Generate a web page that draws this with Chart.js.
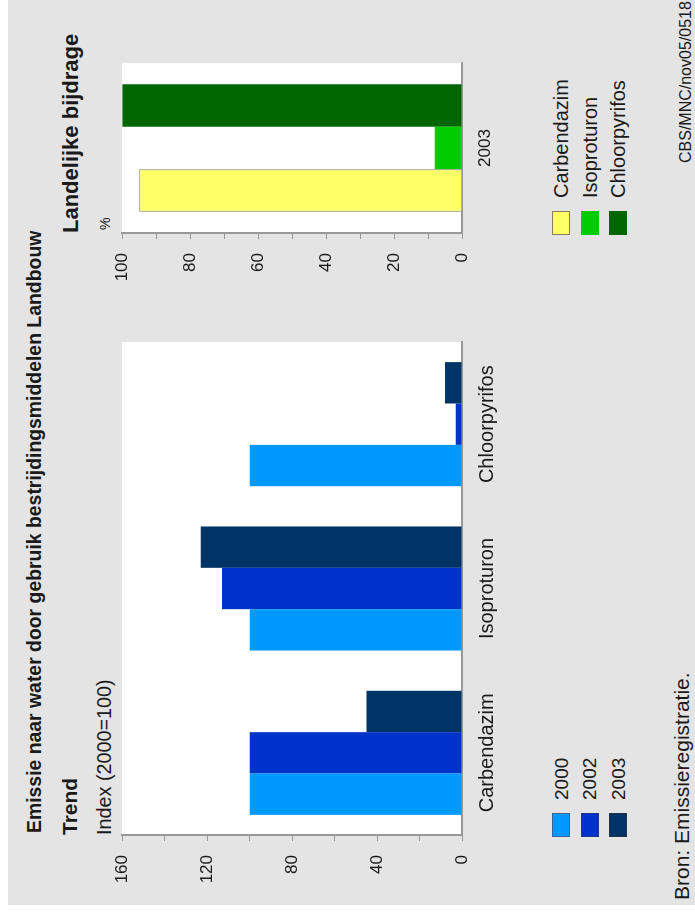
<!DOCTYPE html>
<html lang="nl">
<head>
<meta charset="utf-8">
<title>Emissie naar water door gebruik bestrijdingsmiddelen Landbouw</title>
<script src="https://cdn.jsdelivr.net/npm/chart.js@4.4.1/dist/chart.umd.min.js"></script>
<style>
    html, body { margin: 0; padding: 0; background: #fff; width: 695px; height: 913px; overflow: hidden; }
    body { font-family: Arial, "Liberation Sans", sans-serif; color: #1a1a1a; }
    /* het hele blad staat gedraaid (tekst leest van onder naar boven) */
    #blad { position: absolute; left: 0; top: 0; width: 913px; height: 695px; transform-origin: 0 0; transform: translateY(913px) rotate(-90deg); }
    #paneel { position: absolute; left: 8px; top: 8px; width: 905px; height: 687px; background: #e4e4e4; }
    .tekst { position: absolute; white-space: nowrap; line-height: 1; }
    canvas { position: absolute; }
    .legenda { position: absolute; }
    .legenda .rij { height: 28.5px; display: flex; align-items: center; line-height: 1; }
    .legenda .blok { width: 24px; height: 18px; box-sizing: border-box; margin-right: 13px; }
</style>
</head>
<body>
<div id="blad">
    <div id="paneel"></div>
    <div class="tekst" style="left:80px; top:25px; font-size:19.4px; font-weight:bold;">Emissie naar water door gebruik bestrijdingsmiddelen Landbouw</div>
    <div class="tekst" style="left:78px; top:59px; font-size:21px; font-weight:bold;">Trend</div>
    <div class="tekst" style="left:78px; top:95px; font-size:19.8px;">Index (2000=100)</div>
    <div class="tekst" style="left:680px; top:60px; font-size:22px; font-weight:bold;">Landelijke bijdrage</div>
    <div class="tekst" style="left:683px; top:98px; font-size:14px;">%</div>
    <div class="tekst" style="left:13px; top:671px; font-size:21px;">Bron: Emissieregistratie.</div>
    <div class="tekst" style="left:750px; top:678px; font-size:16px;">CBS/MNC/nov05/0518</div>

    <canvas id="graficoTrend" width="563" height="404" style="left:18px; top:98px;"></canvas>
    <canvas id="graficoBijdrage" width="240" height="404" style="left:620px; top:98px;"></canvas>

    <div class="legenda" id="legendaTrend" style="left:76px; top:547px; font-size:19px;"></div>
    <div class="legenda" id="legendaBijdrage" style="left:678px; top:547px; font-size:20px;"></div>
</div>

<script>
// Gegevens trend (index 2000=100)
const categorieen = ['Carbendazim', 'Isoproturon', 'Chloorpyrifos'];
const jaren = ['2000', '2002', '2003'];
const index2000 = [100, 100, 100];
const index2002 = [100, 113, 3];
const index2003 = [45, 123, 8];

// Gegevens landelijke bijdrage (%)
const bijdrageJaar = ['2003'];
const stoffen = ['Carbendazim', 'Isoproturon', 'Chloorpyrifos'];
const bijdrageCarbendazim = [95];
const bijdrageIsoproturon = [8];
const bijdrageChloorpyrifos = [100];

const kleurenTrend = ['#0099ff', '#0033cc', '#003366'];
const kleurenBijdrage = ['#ffff66', '#00cc00', '#006600'];
const randenBijdrage = ['#8a7d5c', '#00cc00', '#006600'];
const asKleur = '#999999';
const tekstKleur = '#1a1a1a';

Chart.defaults.font.family = 'Arial, "Liberation Sans", sans-serif';
Chart.defaults.color = tekstKleur;

// Witte achtergrond alleen achter het plotgebied
const plotAchtergrond = {
    id: 'plotAchtergrond',
    beforeDraw(chart) {
        const { ctx, chartArea } = chart;
        ctx.save();
        ctx.fillStyle = '#ffffff';
        ctx.fillRect(chartArea.left, chartArea.top, chartArea.right - chartArea.left, chartArea.bottom - chartArea.top);
        ctx.restore();
    }
};

function maakSchalen(max, stap, labelStap, labelGrootte) {
    return {
        x: {
            grid: { display: true, drawOnChartArea: false, drawTicks: false, color: asKleur },
            border: { display: true, color: asKleur, width: 2 },
            ticks: { font: { size: labelGrootte }, padding: 13, maxRotation: 0, autoSkip: false },
            afterFit: (schaal) => { schaal.height = 40; }
        },
        y: {
            min: 0,
            max: max,
            ticks: {
                stepSize: stap,
                font: { size: 17 },
                padding: 14,
                callback: (v) => (v % labelStap === 0 ? v : '') // alleen hoofdstreepjes krijgen een label
            },
            grid: { drawOnChartArea: false, drawTicks: true, tickLength: 6, color: asKleur },
            border: { display: true, color: asKleur, width: 2 },
            afterFit: (schaal) => { schaal.width = 60; }
        }
    };
}

// Grafiek trend
const ctxTrend = document.getElementById('graficoTrend').getContext('2d');
const reeksenTrend = [index2000, index2002, index2003];
const graficoTrend = new Chart(ctxTrend, {
    type: 'bar',
    data: {
        labels: categorieen,
        datasets: jaren.map((jaar, i) => ({
            label: jaar,
            data: reeksenTrend[i],
            backgroundColor: kleurenTrend[i],
            borderWidth: 0,
            categoryPercentage: 0.755,
            barPercentage: 1
        }))
    },
    options: {
        responsive: false,
        animation: false,
        layout: { padding: { top: 10, right: 10, left: 0, bottom: 0 } },
        plugins: { legend: { display: false }, tooltip: { enabled: false } },
        scales: maakSchalen(160, 20, 40, 20)
    },
    plugins: [plotAchtergrond]
});

// Grafiek landelijke bijdrage
const ctxBijdrage = document.getElementById('graficoBijdrage').getContext('2d');
const reeksenBijdrage = [bijdrageCarbendazim, bijdrageIsoproturon, bijdrageChloorpyrifos];
const graficoBijdrage = new Chart(ctxBijdrage, {
    type: 'bar',
    data: {
        labels: bijdrageJaar,
        datasets: stoffen.map((stof, i) => ({
            label: stof,
            data: reeksenBijdrage[i],
            backgroundColor: kleurenBijdrage[i],
            borderColor: randenBijdrage[i],
            borderWidth: i === 0 ? 1 : 0,
            categoryPercentage: 0.75,
            barPercentage: 1
        }))
    },
    options: {
        responsive: false,
        animation: false,
        layout: { padding: { top: 10, right: 10, left: 0, bottom: 0 } },
        plugins: { legend: { display: false }, tooltip: { enabled: false } },
        scales: maakSchalen(100, 10, 20, 17)
    },
    plugins: [plotAchtergrond]
});

// Legenda's als HTML
function vulLegenda(id, namen, kleuren, randen) {
    const doel = document.getElementById(id);
    namen.forEach((naam, i) => {
        const rij = document.createElement('div');
        rij.className = 'rij';
        const blok = document.createElement('div');
        blok.className = 'blok';
        blok.style.background = kleuren[i];
        blok.style.border = '1px solid ' + randen[i];
        const tekst = document.createElement('span');
        tekst.textContent = naam;
        rij.appendChild(blok);
        rij.appendChild(tekst);
        doel.appendChild(rij);
    });
}

vulLegenda('legendaTrend', jaren, kleurenTrend, ['#336699', '#223388', '#223344']);
vulLegenda('legendaBijdrage', stoffen, kleurenBijdrage, randenBijdrage);
</script>
</body>
</html>
